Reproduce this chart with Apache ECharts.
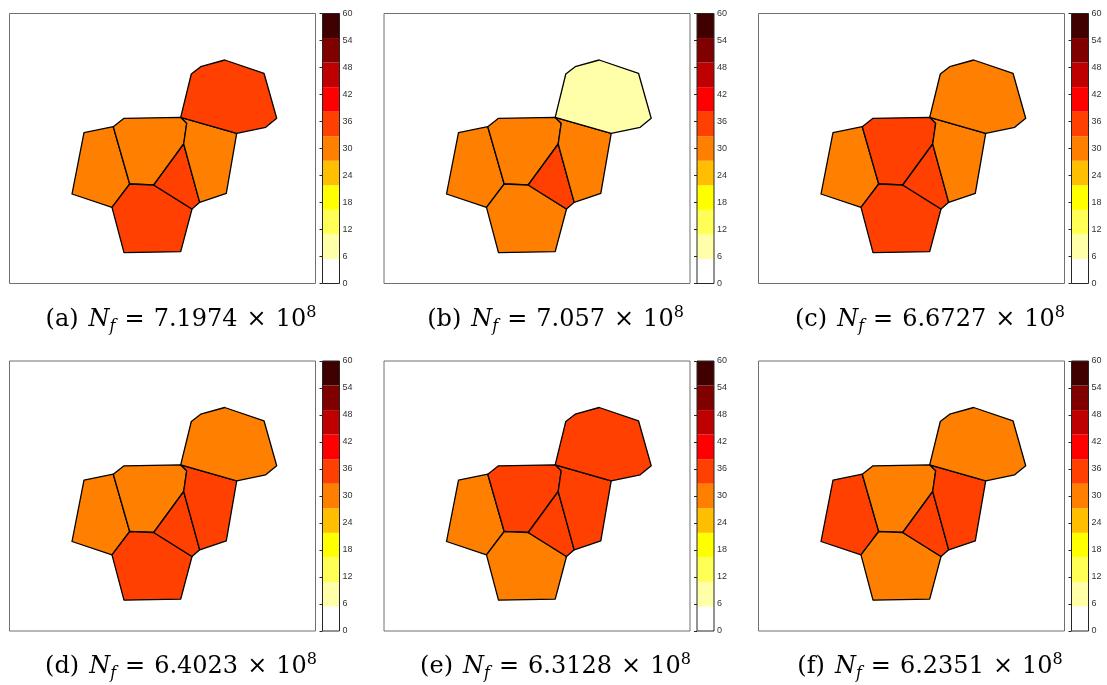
<!DOCTYPE html>
<html>
<head>
<meta charset="utf-8">
<script src="https://cdn.jsdelivr.net/npm/echarts@6/dist/echarts.min.js"></script>
<style>
  html, body {margin: 0; padding: 0; background: #fff;}
  #main {width: 1107px; height: 685px;}
</style>
</head>
<body>
<div id="main"></div>
<script>
// mesh cells (same mesh in every panel): L, C, B, M, R, T
const cellShapes = [
  [[74.5, 119.2], [103.8, 113.2], [120.2, 170.5], [102.5, 193.8], [62.5, 180.5]],
  [[103.8, 113.2], [114.5, 104.8], [171.2, 103.8], [177.2, 109.8], [174.2, 130.5], [144.2, 171.5], [120.2, 170.5]],
  [[102.5, 193.8], [120.2, 170.5], [144.2, 171.5], [182.5, 195.5], [171.2, 238.2], [114.5, 239.2]],
  [[144.2, 171.5], [174.2, 130.5], [190.2, 188.8], [182.5, 195.5]],
  [[171.2, 103.8], [227.2, 119.8], [216.8, 179.8], [190.2, 188.8], [174.2, 130.5], [177.2, 109.8]],
  [[171.2, 103.8], [181.8, 60.5], [191.2, 53.2], [215.2, 46.5], [254.5, 59.8], [267.2, 104.8], [256.2, 113.8], [227.2, 119.8]]
];

// cell values per panel (L, C, B, M, R, T)
const valsA = [30.4, 31.0, 35.2, 34.6, 29.9, 33.8];
const valsB = [30.1, 30.8, 29.7, 34.9, 29.5, 8.2];
const valsC = [29.6, 33.5, 34.1, 35.3, 30.2, 31.1];
const valsD = [30.3, 31.4, 34.2, 35.0, 33.6, 30.6];
const valsE = [31.2, 33.9, 30.9, 35.6, 34.4, 33.2];
const valsF = [33.7, 31.5, 30.7, 35.1, 34.0, 30.0];

const panelLetters = ['(a)', '(b)', '(c)', '(d)', '(e)', '(f)'];
const nfMantissa = ['7.1974', '7.057', '6.6727', '6.4023', '6.3128', '6.2351'];
const nfExponent = '8';

// flipud(hot(11)), colour range 0..60
const colormap = ['#ffffff', '#ffffaa', '#ffff55', '#ffff00', '#ffbf00', '#ff8000',
                  '#ff4000', '#ff0000', '#bf0000', '#800000', '#400000'];
const cMin = 0, cMax = 60;
const cbarTicks = [0, 6, 12, 18, 24, 30, 36, 42, 48, 54, 60];

const panelVals = [valsA, valsB, valsC, valsD, valsE, valsF];
const colLeft = [9.5, 384, 758.5];
const rowTop = [13.5, 361];
const boxW = 306, boxH = 270;

const grids = [], xAxes = [], yAxes = [], series = [], graphics = [];
const band = (cMax - cMin) / colormap.length;

panelVals.forEach((vals, k) => {
  const left = colLeft[k % 3], top = rowTop[Math.floor(k / 3)];
  // map panel
  grids.push({left: left, top: top, width: boxW, height: boxH, show: true,
    borderColor: '#707070', borderWidth: 1, backgroundColor: '#fff'});
  xAxes.push({type: 'value', gridIndex: grids.length - 1, min: 0, max: boxW, show: false});
  yAxes.push({type: 'value', gridIndex: grids.length - 1, min: 0, max: boxH, inverse: true, show: false});
  series.push({
    type: 'custom',
    xAxisIndex: grids.length - 1,
    yAxisIndex: grids.length - 1,
    data: vals.map((v, i) => [i, v]),
    renderItem: function (params, api) {
      const pts = cellShapes[api.value(0)].map(p => api.coord(p));
      return {
        type: 'polygon',
        shape: {points: pts},
        style: {fill: api.visual('color'), stroke: '#000', lineWidth: 1.3, lineJoin: 'round'}
      };
    }
  });
});

const serif = 'DejaVu Serif';
const capRich = {
  t: {fontFamily: serif, fontSize: 24, fill: '#000', lineHeight: 30},
  i: {fontFamily: serif, fontStyle: 'italic', fontSize: 24, fill: '#000', lineHeight: 30, padding: [0, 0, 0, 10]},
  s: {fontFamily: serif, fontStyle: 'italic', fontSize: 16, fill: '#000', lineHeight: 16, verticalAlign: 'bottom'},
  o: {fontFamily: serif, fontSize: 24, fill: '#000', lineHeight: 30, padding: [0, 9]},
  p: {fontFamily: serif, fontSize: 16, fill: '#000', lineHeight: 16, verticalAlign: 'top'}
};

panelVals.forEach((vals, k) => {
  const left = colLeft[k % 3], top = rowTop[Math.floor(k / 3)];
  // colour bar
  grids.push({left: left + 313, top: top, width: 17, height: boxH, show: true,
    borderColor: '#262626', borderWidth: 1, z: 10});
  xAxes.push({type: 'value', gridIndex: grids.length - 1, min: 0, max: 1, show: false});
  yAxes.push({
    type: 'value', gridIndex: grids.length - 1, min: cMin, max: cMax, interval: 6,
    position: 'right', z: 12,
    axisLine: {show: false},
    axisTick: {show: true, inside: true, length: 3, lineStyle: {color: '#262626', width: 1}},
    axisLabel: {fontSize: 9, color: '#333', margin: 3, fontFamily: 'Liberation Sans'},
    splitLine: {show: false}
  });
  series.push({
    type: 'custom',
    xAxisIndex: grids.length - 1,
    yAxisIndex: grids.length - 1,
    z: 1,
    data: colormap.map((c, i) => [i]),
    renderItem: function (params, api) {
      const i = api.value(0);
      const p0 = api.coord([0, cMin + i * band]);
      const p1 = api.coord([1, cMin + (i + 1) * band]);
      return {
        type: 'rect',
        shape: {x: p0[0], y: p1[1], width: p1[0] - p0[0], height: p0[1] - p1[1]},
        style: {fill: colormap[i]}
      };
    }
  });

  // caption
  graphics.push({
    type: 'text',
    x: left + 171.5,
    y: top + 306,
    style: {
      text: '{t|' + panelLetters[k] + '}{i|N}{s|f}{o|=}{t|' + nfMantissa[k] + '}{o|×}{t|10}{p|' + nfExponent + '}',
      align: 'center',
      verticalAlign: 'middle',
      rich: capRich
    }
  });
});

const pieces = colormap.map((c, i) => ({gte: cMin + i * band, lt: cMin + (i + 1) * band, color: c}));

const option = {
  animation: false,
  grid: grids,
  xAxis: xAxes,
  yAxis: yAxes,
  visualMap: {
    type: 'piecewise',
    show: false,
    dimension: 1,
    seriesIndex: [0, 1, 2, 3, 4, 5],
    pieces: pieces
  },
  series: series,
  graphic: graphics
};

const chart = echarts.init(document.getElementById('main'));
chart.setOption(option);
</script>
</body>
</html>
